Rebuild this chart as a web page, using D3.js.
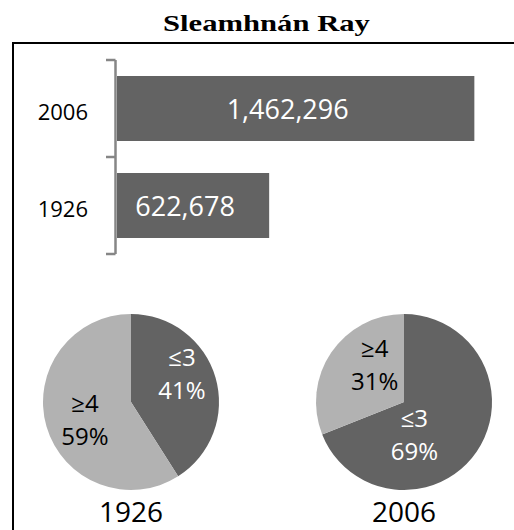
<!DOCTYPE html>
<html>
<head>
<meta charset="utf-8">
<script src="https://cdn.jsdelivr.net/npm/d3@7"></script>
<style>
  body { margin: 0; background: #fff; }
  text { font-family: "Open Sans", "Noto Sans", sans-serif; }
  text.title { font-family: "Liberation Serif", "Times New Roman", serif; }
</style>
</head>
<body>
<div id="chart"></div>
<script>
var chartTitle = "Sleamhnán Ray";

// population bars
var barYears = ["2006", "1926"];
var barValues = [1462296, 622678];

// household size pies
var pieYears = ["1926", "2006"];
var pieLabels = ["≤3", "≥4"];
var shareSmall = [41, 69];
var shareLarge = [59, 31];

var dark = "#636363";
var light = "#b2b2b2";

var svgWidth = 514;
var svgHeight = 530;
var svg = d3.select("#chart")
    .append("svg")
    .attr("width", svgWidth)
    .attr("height", svgHeight);

// title, stretched sideways like the original
var title = svg.append("text")
    .attr("class", "title")
    .attr("x", 0)
    .attr("y", 0)
    .style("font-weight", "bold")
    .style("font-size", "23px")
    .text(chartTitle);
var titleW = title.node().getComputedTextLength();
title.attr("transform", "translate(163,31) scale(" + (207 / titleW) + ",1)");

// frame (left and top edges only visible)
svg.append("path")
    .attr("d", "M13," + svgHeight + "V43H" + svgWidth)
    .attr("fill", "none")
    .attr("stroke", "#000")
    .attr("stroke-width", 2);

// ---- bars ----
var yScale = d3.scaleBand()
    .domain(barYears)
    .range([60, 254])
    .paddingInner(0.33)
    .paddingOuter(0.165);

var xScale = d3.scaleLinear()
    .domain([0, 1600000])
    .range([117, 508]);

var fmt = d3.format(",");

var barGroup = svg.append("g");

barGroup.selectAll("rect")
    .data(barYears)
    .enter()
    .append("rect")
    .attr("x", xScale(0))
    .attr("y", d => yScale(d))
    .attr("width", (d, i) => xScale(barValues[i]) - xScale(0))
    .attr("height", yScale.bandwidth())
    .attr("fill", dark);

barGroup.selectAll(".val")
    .data(barYears)
    .enter()
    .append("text")
    .attr("class", "val")
    .attr("x", (d, i) => (xScale(0) + xScale(barValues[i])) / 2 - 8)
    .attr("y", d => yScale(d) + yScale.bandwidth() / 2 + 10)
    .attr("text-anchor", "middle")
    .attr("fill", "#fff")
    .style("font-size", "27px")
    .text((d, i) => fmt(barValues[i]));

// category axis with bracket ticks
var step = yScale.step();
var axisTop = yScale(barYears[0]) - step * yScale.paddingInner() / 2;
var axisX = xScale(0) - 1.5;
var tickYs = d3.range(barYears.length + 1).map(i => axisTop + i * step);

barGroup.append("line")
    .attr("x1", axisX).attr("x2", axisX)
    .attr("y1", tickYs[0]).attr("y2", tickYs[tickYs.length - 1])
    .attr("stroke", "#868686")
    .attr("stroke-width", 2.5);

barGroup.selectAll(".tick")
    .data(tickYs)
    .enter()
    .append("line")
    .attr("class", "tick")
    .attr("x1", 106).attr("x2", axisX)
    .attr("y1", d => d).attr("y2", d => d)
    .attr("stroke", "#868686")
    .attr("stroke-width", 2.5);

barGroup.selectAll(".cat")
    .data(barYears)
    .enter()
    .append("text")
    .attr("class", "cat")
    .attr("x", 88)
    .attr("y", d => yScale(d) + yScale.bandwidth() / 2 + 11)
    .attr("text-anchor", "end")
    .attr("fill", "#000")
    .style("font-size", "22px")
    .text(d => d);

// ---- pies ----
var pieX = d3.scalePoint()
    .domain(pieYears)
    .range([131, 404]);
var pieY = 402;
var radius = 88;

var pie = d3.pie().sort(null).value(d => d.value);
var arc = d3.arc().innerRadius(0).outerRadius(radius);
var labelArc = d3.arc().innerRadius(50).outerRadius(50);

// small nudges so labels sit where the original put them
var labelNudge = [[[3, -13], [2, 5]], [[-31, 6], [12, -8]]];

pieYears.forEach(function(year, p) {
    var slices = pie([
        {name: pieLabels[0], value: shareSmall[p], color: dark, text: "#fff"},
        {name: pieLabels[1], value: shareLarge[p], color: light, text: "#000"}
    ]);

    var g = svg.append("g")
        .attr("transform", "translate(" + pieX(year) + "," + pieY + ")");

    g.selectAll("path")
        .data(slices)
        .enter()
        .append("path")
        .attr("d", arc)
        .attr("fill", d => d.data.color);

    var lbl = g.selectAll(".plabel")
        .data(slices)
        .enter()
        .append("text")
        .attr("class", "plabel")
        .attr("text-anchor", "middle")
        .attr("fill", d => d.data.text)
        .style("font-size", "24px")
        .attr("transform", function(d, i) {
            var c = labelArc.centroid(d);
            return "translate(" + (c[0] + labelNudge[p][i][0]) + ","
                + (c[1] + labelNudge[p][i][1]) + ")";
        });

    lbl.append("tspan")
        .attr("x", 0)
        .attr("y", -9)
        .text(d => d.data.name);
    lbl.append("tspan")
        .attr("x", 0)
        .attr("y", 24)
        .text(d => d.data.value + "%");

    svg.append("text")
        .attr("x", pieX(year))
        .attr("y", 522)
        .attr("text-anchor", "middle")
        .attr("fill", "#000")
        .style("font-size", "28px")
        .text(year);
});
</script>
</body>
</html>
